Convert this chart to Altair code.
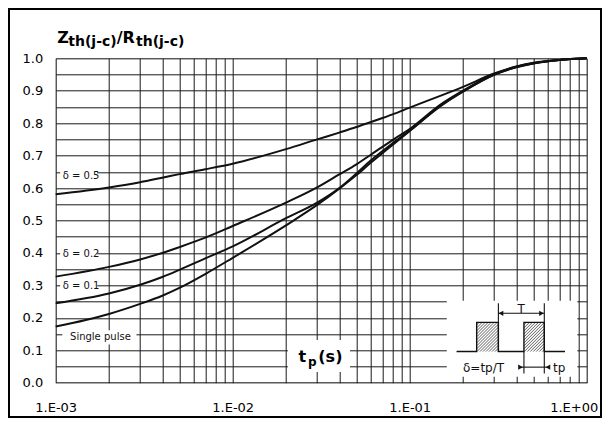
import math
import altair as alt
import pandas as pd

# ---------------- data ----------------
tp_s = [0.001, 0.002, 0.003, 0.004, 0.005, 0.007, 0.01, 0.02, 0.03, 0.04, 0.05,
        0.06, 0.08, 0.1, 0.15, 0.2, 0.3, 0.4, 0.5, 0.7, 1.0]
z_delta_05 = [0.581, 0.602, 0.618, 0.632, 0.643, 0.658, 0.675, 0.72, 0.75, 0.771, 0.788,
              0.803, 0.827, 0.848, 0.885, 0.912, 0.953, 0.975, 0.986, 0.995, 1.0]
z_delta_02 = [0.327, 0.357, 0.38, 0.40, 0.418, 0.447, 0.483, 0.555, 0.602, 0.642, 0.673,
              0.702, 0.748, 0.782, 0.858, 0.90, 0.951, 0.974, 0.985, 0.995, 1.0]
z_delta_01 = [0.245, 0.275, 0.302, 0.326, 0.348, 0.383, 0.42, 0.507, 0.555, 0.60, 0.645,
              0.684, 0.738, 0.777, 0.855, 0.898, 0.95, 0.973, 0.985, 0.995, 1.0]
z_single = [0.173, 0.212, 0.243, 0.268, 0.292, 0.335, 0.385, 0.485, 0.548, 0.598, 0.64,
            0.677, 0.733, 0.776, 0.853, 0.897, 0.949, 0.972, 0.984, 0.995, 1.0]
series_names = ["δ = 0.5", "δ = 0.2", "δ = 0.1", "Single pulse"]

x_ticks = [0.001, 0.002, 0.003, 0.004, 0.005, 0.006, 0.007, 0.008, 0.009,
           0.01, 0.02, 0.03, 0.04, 0.05, 0.06, 0.07, 0.08, 0.09,
           0.1, 0.2, 0.3, 0.4, 0.5, 0.6, 0.7, 0.8, 0.9, 1]
y_ticks = [0, 0.05, 0.1, 0.15, 0.2, 0.25, 0.3, 0.35, 0.4, 0.45, 0.5,
           0.55, 0.6, 0.65, 0.7, 0.75, 0.8, 0.85, 0.9, 0.95, 1.0]

# curve labels (annotation)
lab_text = ["δ = 0.5", "δ = 0.2", "δ = 0.1", "Single pulse"]
lab_x = [0.001095, 0.001095, 0.001095, 0.001205]
lab_y = [0.636, 0.3955, 0.2983, 0.14]

# white background boxes behind texts / inset (data coords)
box_x0 = [0.00106, 0.00106, 0.00106, 0.00109, 0.0205, 0.162]
box_x1 = [0.00171, 0.00172, 0.00172, 0.00286, 0.046, 0.885]
box_y0 = [0.62, 0.375, 0.278, 0.118, 0.033, 0.018]
box_y1 = [0.66, 0.42, 0.32, 0.162, 0.1316, 0.2525]

# pulse inset diagram
pulse_x0 = [0.239, 0.442]
pulse_x1 = [0.317, 0.576]
pulse_base = 0.096
pulse_top = 0.186
base_start, base_end = 0.184, 0.754

# ---------------- chart ----------------
W, H = 531, 324.4
XS = alt.Scale(type="log", domain=[0.001, 1], nice=False)
YS = alt.Scale(domain=[0, 1], nice=False, zero=False)
FONT = "DejaVu Sans"

x_label_expr = ("datum.value == 0.001 ? '1.E-03' : datum.value == 0.01 ? '1.E-02' : "
                "datum.value == 0.1 ? '1.E-01' : datum.value == 1 ? '1.E+00' : ''")
XAX = alt.Axis(values=x_ticks, grid=True, gridColor="#1a1a1a", gridWidth=1, gridOpacity=1,
               ticks=False, tickSize=0, domain=False, labelExpr=x_label_expr, labelFont=FONT,
               labelFontSize=13, labelColor="#000", labelPadding=19, title=None,
               labelOffset={"condition": {"test": "datum.value == 1", "value": -13}, "value": 0},
               labelFlush=False, labelOverlap=False, labelBound=False)
YAX = alt.Axis(values=y_ticks, grid=True, gridColor="#1a1a1a", gridWidth=1, gridOpacity=1,
               ticks=False, tickSize=0, domain=False,
               labelExpr="round(datum.value*20) % 2 == 0 ? format(datum.value, '.1f') : ''",
               labelFont=FONT, labelFontSize=13, labelColor="#000", labelPadding=13,
               title=None, labelOverlap=False, labelBound=False, labelFlush=False)


def X(f):
    return alt.X(f, type="quantitative", scale=XS, axis=XAX)


def Y(f):
    return alt.Y(f, type="quantitative", scale=YS, axis=YAX)


rows = []
for name, vals in zip(series_names, [z_delta_05, z_delta_02, z_delta_01, z_single]):
    for t, z in zip(tp_s, vals):
        rows.append({"x": t, "y": z, "series": name})
curves_df = pd.DataFrame(rows)

boxes_df = pd.DataFrame({"x": box_x0, "x2": box_x1, "y": box_y0, "y2": box_y1})
labels_df = pd.DataFrame({"x": lab_x, "y": lab_y, "text": lab_text})

boxes = alt.Chart(boxes_df).mark_rect(color="white", opacity=1).encode(
    x=X("x"), x2="x2", y=Y("y"), y2="y2")

curves = alt.Chart(curves_df).mark_line(color="#111", strokeWidth=2, interpolate="monotone").encode(
    x=X("x"), y=Y("y"), detail="series:N")

labels = alt.Chart(labels_df).mark_text(font=FONT, fontSize=10, align="left",
                                        baseline="middle", color="#111").encode(
    x=X("x"), y=Y("y"), text="text:N")


# ---- pulse inset ----
def px(v):
    return W * (math.log10(v) + 3) / 3


def py(v):
    return H * (1 - v)


def inv_x(p):
    return 10 ** (p * 3 / W - 3)


def inv_y(p):
    return 1 - p / H


hatch = []
for a, b in zip(pulse_x0, pulse_x1):
    x0, x1 = px(a), px(b)
    yt, yb = py(pulse_top), py(pulse_base)
    c = x0 + yt + 2.5
    while c < x1 + yb:
        xs = max(x0, c - yb)
        xe = min(x1, c - yt)
        if xe > xs:
            hatch.append({"x": inv_x(xs), "y": inv_y(c - xs), "x2": inv_x(xe), "y2": inv_y(c - xe)})
        c += 3.0
hatch_df = pd.DataFrame(hatch)
hatch_layer = alt.Chart(hatch_df).mark_rule(color="#333", strokeWidth=0.8).encode(
    x=X("x"), y=Y("y"), x2="x2", y2="y2")

outline_x = [base_start, pulse_x0[0], pulse_x0[0], pulse_x1[0], pulse_x1[0],
             pulse_x0[1], pulse_x0[1], pulse_x1[1], pulse_x1[1], base_end]
outline_y = [pulse_base, pulse_base, pulse_top, pulse_top, pulse_base,
             pulse_base, pulse_top, pulse_top, pulse_base, pulse_base]
outline_df = pd.DataFrame({"x": outline_x, "y": outline_y, "o": list(range(len(outline_x)))})
outline = alt.Chart(outline_df).mark_line(color="#111", strokeWidth=1.4).encode(
    x=X("x"), y=Y("y"), order="o:Q")

seg_df = pd.DataFrame({
    "x": [pulse_x1[0], pulse_x1[1], pulse_x0[1], pulse_x1[0], 0.42],
    "x2": [pulse_x1[0], pulse_x1[1], pulse_x0[1], pulse_x1[1], 0.605],
    "y": [pulse_base, 0.245, pulse_base, 0.214, 0.048],
    "y2": [0.245, 0.028, 0.028, 0.214, 0.048],
})
segs = alt.Chart(seg_df).mark_rule(color="#111", strokeWidth=1.1).encode(
    x=X("x"), y=Y("y"), x2="x2", y2="y2")

arrows_df = pd.DataFrame({
    "x": [0.328, 0.5554, 0.4227, 0.6043],
    "y": [0.214, 0.214, 0.048, 0.048],
    "shape": ["triangle-left", "triangle-right", "triangle-right", "triangle-left"],
})
arrows = alt.Chart(arrows_df).mark_point(filled=True, size=28, color="#111", opacity=1).encode(
    x=X("x"), y=Y("y"), shape=alt.Shape("shape:N", scale=None, legend=None))

inset_txt_df = pd.DataFrame({
    "x": [0.200, 0.426, 0.645],
    "y": [0.046, 0.228, 0.046],
    "text": ["δ=tp/T", "T", "tp"],
    "align": ["left", "center", "left"],
})
inset_left = alt.Chart(inset_txt_df[inset_txt_df["align"] == "left"]).mark_text(
    font=FONT, fontSize=12, align="left", baseline="middle", color="#111").encode(
    x=X("x"), y=Y("y"), text="text:N")
inset_center = alt.Chart(inset_txt_df[inset_txt_df["align"] == "center"]).mark_text(
    font=FONT, fontSize=12, align="center", baseline="middle", color="#111").encode(
    x=X("x"), y=Y("y"), text="text:N")

# ---- axis caption tp(s) ----
tp_big_df = pd.DataFrame({"x": [0.0235, 0.03045], "y": [0.0623, 0.0623], "text": ["t", "(s)"]})
tp_big = alt.Chart(tp_big_df).mark_text(font=FONT, fontSize=16, fontWeight="bold", align="left",
                                        baseline="alphabetic", color="#000").encode(
    x=X("x"), y=Y("y"), text="text:N")
tp_sub_df = pd.DataFrame({"x": [0.02663], "y": [0.0515], "text": ["p"]})
tp_sub = alt.Chart(tp_sub_df).mark_text(font=FONT, fontSize=12, fontWeight="bold", align="left",
                                        baseline="alphabetic", color="#000").encode(
    x=X("x"), y=Y("y"), text="text:N")

# ---- title Zth(j-c)/Rth(j-c) (above plot area, pixel placed) ----
one = alt.Data(values=[{}])
title_parts = [("Z", 1.5, -15.0, 16), ("th(j-c)", 12.6, -12.6, 14),
               ("/R", 61.0, -15.0, 16), ("th(j-c)", 80.3, -12.6, 14)]
title_layers = []
for txt, tx, ty, fs in title_parts:
    title_layers.append(
        alt.Chart(one).mark_text(text=txt, font=FONT, fontSize=fs, fontWeight="bold", align="left",
                                 baseline="alphabetic", color="#000").encode(
            x=alt.value(tx), y=alt.value(ty)))

border = alt.Chart(one).mark_rect(filled=False, stroke="#000", strokeWidth=2, fill=None).encode(
    x=alt.value(-46.7), x2=alt.value(545.3), y=alt.value(-49.3), y2=alt.value(358.7))

chart = alt.layer(
    boxes, curves, labels, hatch_layer, outline, segs, arrows, inset_left, inset_center,
    tp_big, tp_sub, *title_layers, border
).properties(
    width=W, height=H, autosize="none",
    padding={"left": 47.7, "top": 50.3, "right": 15.3, "bottom": 35.3},
).configure_view(stroke="#000", strokeWidth=1.5).configure(background="white")

chart.save("out.html", embed_options={"renderer": "svg", "actions": False})
